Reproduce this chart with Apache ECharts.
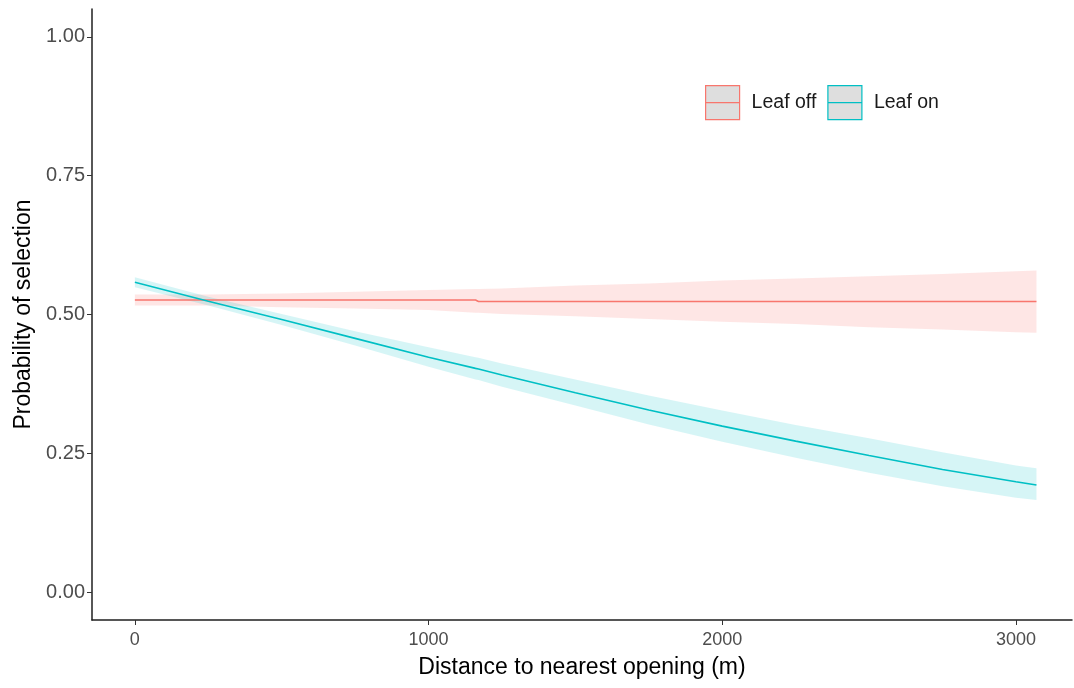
<!DOCTYPE html>
<html>
<head>
<meta charset="utf-8">
<title>Probability of selection vs distance to nearest opening</title>
<script src="https://cdn.jsdelivr.net/npm/echarts@6/dist/echarts.min.js"></script>
<style>
  html, body { margin: 0; padding: 0; background: #ffffff; }
  #chart { width: 1074px; height: 688px; }
</style>
</head>
<body>
<div id="chart"></div>
<script>
// Distance to nearest opening (m) at which the fitted curves are given
const distance = [0, 250, 500, 750, 1000, 1160, 1170, 1250, 1500, 1750, 2000, 2250, 2500, 2750, 3000, 3070];

// Leaf off: fitted probability and 95% band
const leafOffFit   = [0.526, 0.526, 0.526, 0.526, 0.526, 0.526, 0.5235, 0.5235, 0.5235, 0.5235, 0.5235, 0.5235, 0.5235, 0.5235, 0.5235, 0.5235];
const leafOffLower = [0.516, 0.516, 0.513, 0.511, 0.508, 0.503, 0.503, 0.501, 0.497, 0.492, 0.487, 0.483, 0.477, 0.473, 0.468, 0.467];
const leafOffUpper = [0.536, 0.536, 0.538, 0.541, 0.544, 0.546, 0.546, 0.547, 0.552, 0.556, 0.561, 0.565, 0.569, 0.573, 0.578, 0.579];

// Leaf on: fitted probability and 95% band
const leafOnFit   = [0.558, 0.524, 0.491, 0.457, 0.423, 0.403, 0.402, 0.391, 0.359, 0.328, 0.299, 0.272, 0.246, 0.221, 0.199, 0.193];
const leafOnLower = [0.549, 0.516, 0.481, 0.444, 0.406, 0.383, 0.382, 0.370, 0.336, 0.302, 0.271, 0.242, 0.215, 0.191, 0.170, 0.166];
const leafOnUpper = [0.567, 0.532, 0.501, 0.470, 0.441, 0.423, 0.422, 0.412, 0.383, 0.354, 0.327, 0.301, 0.277, 0.252, 0.228, 0.223];

// Axis tick values
const xTicks = [0, 1000, 2000, 3000];
const yTicks = [0, 0.25, 0.5, 0.75, 1];

const seriesNames = ['Leaf off', 'Leaf on'];
const lineColors = ['#F8766D', '#00BFC4'];
const bandColors = ['rgba(248,118,109,0.18)', 'rgba(0,191,196,0.16)'];

const FONT = '"Liberation Sans", Arial, sans-serif';

// Polygon ribbon between lower and upper bounds, mapped through the grid's axes
function bandSeries(name, lower, upper, fill) {
  return {
    name: name,
    type: 'custom',
    silent: true,
    z: 1,
    itemStyle: { color: fill },
    data: [[distance[0], lower[0]]],
    renderItem: function (params, api) {
      const pts = [];
      for (let i = 0; i < distance.length; i++) pts.push(api.coord([distance[i], upper[i]]));
      for (let i = distance.length - 1; i >= 0; i--) pts.push(api.coord([distance[i], lower[i]]));
      return { type: 'polygon', shape: { points: pts }, style: { fill: fill } };
    }
  };
}

function lineSeries(name, fit, color) {
  return {
    name: name,
    type: 'line',
    z: 3,
    showSymbol: false,
    symbol: 'none',
    silent: true,
    lineStyle: { color: color, width: 1.6 },
    itemStyle: { color: color },
    data: distance.map(function (d, i) { return [d, fit[i]]; })
  };
}

const keyIcon = 'path://M0,0H34V34H0ZM0,17H34';

const option = {
  animation: false,
  backgroundColor: '#ffffff',
  grid: { left: 92, right: 2, top: 9, bottom: 68, containLabel: false },
  legend: {
    left: 705,
    top: 85,
    itemWidth: 34,
    itemHeight: 34,
    itemGap: 11,
    padding: 0,
    selectedMode: false,
    textStyle: { fontFamily: FONT, fontSize: 19.5, color: '#1a1a1a', padding: [0, 0, 0, 7] },
    data: seriesNames.map(function (n, i) {
      return {
        name: n,
        icon: keyIcon,
        itemStyle: { color: '#dedede', borderColor: lineColors[i], borderWidth: 1.2 }
      };
    })
  },
  xAxis: {
    type: 'value',
    min: -146,
    max: 3191,
    name: 'Distance to nearest opening (m)',
    nameLocation: 'middle',
    nameGap: 36,
    nameTextStyle: { fontFamily: FONT, fontSize: 23, color: '#000000' },
    splitLine: { show: false },
    axisLine: { show: true, onZero: false, lineStyle: { color: '#1f1f1f', width: 1.5 } },
    axisTick: { show: true, length: 5, customValues: xTicks, lineStyle: { color: '#333333', width: 1 } },
    axisLabel: {
      customValues: xTicks,
      margin: 11,
      fontFamily: FONT,
      fontSize: 18,
      color: '#4d4d4d',
      formatter: function (v) { return String(v); }
    }
  },
  yAxis: {
    type: 'value',
    min: -0.05,
    max: 1.05,
    name: 'Probability of selection',
    nameLocation: 'middle',
    nameGap: 57,
    nameTextStyle: { fontFamily: FONT, fontSize: 23, color: '#000000' },
    splitLine: { show: false },
    axisLine: { show: true, onZero: false, lineStyle: { color: '#1f1f1f', width: 1.5 } },
    axisTick: { show: true, length: 5, customValues: yTicks, lineStyle: { color: '#333333', width: 1 } },
    axisLabel: {
      customValues: yTicks,
      margin: 7,
      fontFamily: FONT,
      fontSize: 20,
      color: '#4d4d4d',
      formatter: function (v) { return v.toFixed(2); }
    }
  },
  series: [
    bandSeries(seriesNames[0], leafOffLower, leafOffUpper, bandColors[0]),
    bandSeries(seriesNames[1], leafOnLower, leafOnUpper, bandColors[1]),
    lineSeries(seriesNames[0], leafOffFit, lineColors[0]),
    lineSeries(seriesNames[1], leafOnFit, lineColors[1])
  ]
};

const chart = echarts.init(document.getElementById('chart'), null, { renderer: 'canvas' });
chart.setOption(option);
</script>
</body>
</html>
